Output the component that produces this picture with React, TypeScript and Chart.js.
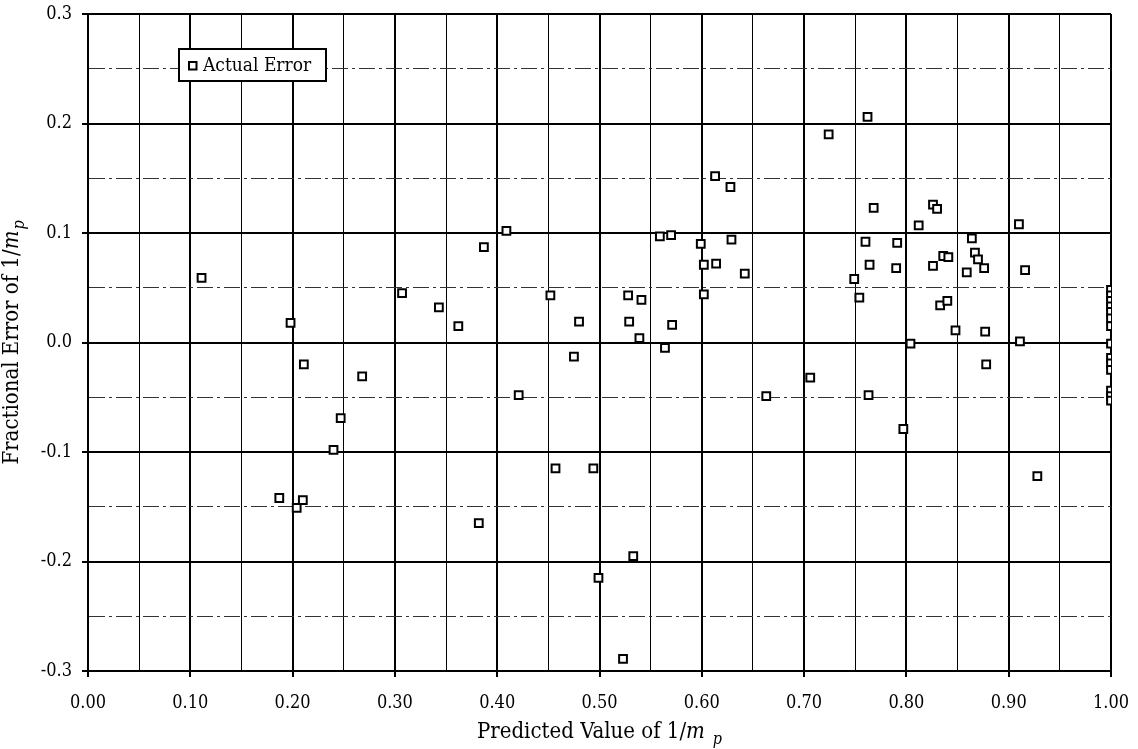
import React, { useEffect, useRef } from 'react';
import { Chart, registerables } from 'chart.js';

Chart.register(...registerables);

// ---- data ----
const predictedValues: number[] = [
  0.111, 0.198, 0.211, 0.187, 0.210, 0.204, 0.240, 0.247, 0.268, 0.307,
  0.343, 0.362, 0.387, 0.409, 0.382, 0.421, 0.452, 0.457, 0.475, 0.480,
  0.494, 0.499, 0.523, 0.528, 0.529, 0.533, 0.539, 0.541, 0.559, 0.564,
  0.570, 0.571, 0.599, 0.602, 0.602, 0.613, 0.614, 0.628, 0.629, 0.642,
  0.663, 0.706, 0.724, 0.749, 0.754, 0.760, 0.762, 0.763, 0.764, 0.768,
  0.790, 0.791, 0.797, 0.804, 0.812, 0.826, 0.826, 0.830, 0.833, 0.836,
  0.840, 0.841, 0.848, 0.859, 0.864, 0.867, 0.870, 0.876, 0.877, 0.878,
  0.910, 0.911, 0.916, 0.928,
  1.0, 1.0, 1.0, 1.0, 1.0, 1.0, 1.0, 1.0, 1.0, 1.0, 1.0, 1.0, 1.0, 1.0,
];

const fractionalErrors: number[] = [
  0.059, 0.018, -0.020, -0.142, -0.144, -0.151, -0.098, -0.069, -0.031, 0.045,
  0.032, 0.015, 0.087, 0.102, -0.165, -0.048, 0.043, -0.115, -0.013, 0.019,
  -0.115, -0.215, -0.289, 0.043, 0.019, -0.195, 0.004, 0.039, 0.097, -0.005,
  0.098, 0.016, 0.090, 0.044, 0.071, 0.152, 0.072, 0.142, 0.094, 0.063,
  -0.049, -0.032, 0.190, 0.058, 0.041, 0.092, 0.206, -0.048, 0.071, 0.123,
  0.068, 0.091, -0.079, -0.001, 0.107, 0.126, 0.070, 0.122, 0.034, 0.079,
  0.038, 0.078, 0.011, 0.064, 0.095, 0.082, 0.076, 0.068, 0.010, -0.020,
  0.108, 0.001, 0.066, -0.122,
  0.048, 0.043, 0.038, 0.033, 0.028, 0.022, 0.015, -0.001, -0.014, -0.019,
  -0.025, -0.044, -0.049, -0.053,
];

const xTickLabels: string[] = ['0.00', '0.10', '0.20', '0.30', '0.40', '0.50', '0.60', '0.70', '0.80', '0.90', '1.00'];
const yTickLabels: string[] = ['-0.3', '-0.2', '-0.1', '0.0', '0.1', '0.2', '0.3'];
const seriesLabel = 'Actual Error';

type Part = { text: string; italic?: boolean; sub?: boolean; gap?: number };
const xTitleParts: Part[] = [
  { text: 'Predicted Value of 1/' },
  { text: 'm', italic: true },
  { text: 'p', italic: true, sub: true, gap: 8 },
];
const yTitleParts: Part[] = [
  { text: 'Fractional Error of 1/' },
  { text: 'm', italic: true },
  { text: 'p', italic: true, sub: true, gap: 1 },
];

const FONT = "'DejaVu Serif Condensed', 'DejaVu Serif', serif";

function isMajor(v: number | undefined): boolean {
  if (v === undefined || v === null) return true;
  return Math.abs(Math.round(v * 20)) % 2 === 0;
}

function drawRich(ctx: CanvasRenderingContext2D, parts: Part[], cx: number, baseline: number, size: number) {
  const fontFor = (p: Part) =>
    `${p.italic ? 'italic ' : ''}${p.sub ? Math.round(size * 0.72) : size}px ${FONT}`;
  let total = 0;
  const widths = parts.map((p) => {
    ctx.font = fontFor(p);
    const w = ctx.measureText(p.text).width + (p.gap || 0);
    total += w;
    return w;
  });
  let x = cx - total / 2;
  ctx.textAlign = 'left';
  ctx.textBaseline = 'alphabetic';
  parts.forEach((p, i) => {
    ctx.font = fontFor(p);
    ctx.fillText(p.text, x + (p.gap || 0), baseline + (p.sub ? size * 0.25 : 0));
    x += widths[i];
  });
}

const customPlugin = {
  id: 'customDecor',
  afterDatasetsDraw(chart: any) {
    const { ctx, chartArea } = chart;
    ctx.save();
    // legend box
    const bx = 179, by = 49, bw = 147, bh = 32;
    ctx.fillStyle = '#fff';
    ctx.fillRect(bx, by, bw, bh);
    ctx.strokeStyle = '#000';
    ctx.lineWidth = 2;
    ctx.strokeRect(bx, by, bw, bh);
    ctx.lineWidth = 2;
    ctx.strokeRect(189, 62, 7.5, 7.5);
    ctx.fillStyle = '#000';
    ctx.font = `19px ${FONT}`;
    ctx.textAlign = 'left';
    ctx.textBaseline = 'middle';
    ctx.fillText(seriesLabel, 203, 66);

    // axis titles
    const cxm = (chartArea.left + chartArea.right) / 2;
    drawRich(ctx, xTitleParts, cxm, 738, 22);
    ctx.translate(18, (chartArea.top + chartArea.bottom) / 2);
    ctx.rotate(-Math.PI / 2);
    drawRich(ctx, yTitleParts, 0, 0, 22);
    ctx.restore();
  },
};

export default function App() {
  const canvasRef = useRef<HTMLCanvasElement | null>(null);

  useEffect(() => {
    document.body.style.margin = '0';
    const canvas = canvasRef.current;
    if (!canvas) return;
    const points = predictedValues.map((x, i) => ({ x, y: fractionalErrors[i] }));

    const chart = new Chart(canvas, {
      type: 'scatter',
      data: {
        datasets: [
          {
            label: seriesLabel,
            data: points,
            pointStyle: 'rect',
            pointRadius: 5.5,
            pointBorderWidth: 2,
            borderColor: '#000',
            backgroundColor: '#fff',
            showLine: false,
          },
        ],
      },
      options: {
        responsive: false,
        animation: false,
        layout: { padding: { left: 0, right: 27, top: 14, bottom: 0 } },
        plugins: {
          legend: { display: false },
          tooltip: { enabled: false },
        },
        scales: {
          x: {
            type: 'linear',
            min: 0,
            max: 1,
            afterFit: (s: any) => {
              s.height = 78;
              s.paddingLeft = 0;
              s.paddingRight = 0;
              s.paddingTop = 0;
              s.paddingBottom = 0;
            },
            ticks: {
              stepSize: 0.05,
              autoSkip: false,
              maxRotation: 0,
              padding: 16,
              color: '#000',
              font: { family: FONT, size: 18 },
              callback: (v: any) => {
                const k = Math.round(Number(v) * 20);
                return k % 2 === 0 ? xTickLabels[k / 2] : '';
              },
            },
            grid: {
              color: '#000',
              lineWidth: (c: any) => (isMajor(c.tick?.value) ? 2 : 1),
              tickLength: 6,
              tickWidth: 2,
              tickColor: (c: any) => (isMajor(c.tick?.value) ? '#000' : 'rgba(0,0,0,0)'),
            },
            border: { color: '#000', width: 2 },
          },
          y: {
            type: 'linear',
            min: -0.3,
            max: 0.3,
            afterFit: (s: any) => {
              s.width = 88;
              s.paddingLeft = 0;
              s.paddingRight = 0;
              s.paddingTop = 0;
              s.paddingBottom = 0;
            },
            ticks: {
              stepSize: 0.05,
              autoSkip: false,
              padding: 10,
              color: '#000',
              font: { family: FONT, size: 18 },
              callback: (v: any) => {
                const k = Math.round((Number(v) + 0.3) * 20);
                return k % 2 === 0 ? yTickLabels[k / 2] : '';
              },
            },
            grid: {
              color: (c: any) => (isMajor(c.tick?.value) ? '#000' : '#333'),
              lineWidth: (c: any) => (isMajor(c.tick?.value) ? 2 : 1),
              tickLength: 6,
              tickWidth: 2,
              tickColor: (c: any) => (isMajor(c.tick?.value) ? '#000' : 'rgba(0,0,0,0)'),
            },
            border: {
              color: '#000',
              width: 2,
              dash: (c: any) => (c.tick && !isMajor(c.tick.value) ? [16, 4, 3, 4] : []),
            },
          },
        },
      },
      plugins: [customPlugin],
    } as any);

    return () => chart.destroy();
  }, []);

  return (
    <div style={{ position: 'absolute', left: 0, top: 0, width: 1138, height: 749, background: '#fff' }}>
      <canvas ref={canvasRef} width={1138} height={749} style={{ display: 'block' }} />
    </div>
  );
}
